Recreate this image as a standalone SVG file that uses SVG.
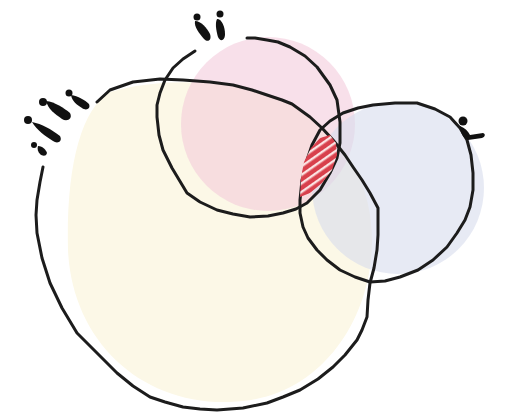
<svg xmlns="http://www.w3.org/2000/svg" width="513" height="415" viewBox="0 0 513 415">
<defs>
<style>
.ol{fill:none;stroke:#1c1c1c;stroke-width:3;stroke-linejoin:round;stroke-linecap:round}
.fig{fill:#111}
</style>
<pattern id="hatch" width="7" height="7" patternUnits="userSpaceOnUse" patternTransform="rotate(-35)">
<rect width="7" height="7" fill="#d8404c"/>
<rect y="0" width="7" height="2.4" fill="#fbe3e3"/>
</pattern>
</defs>
<rect width="513" height="415" fill="#ffffff"/>
<g id="fills">
<path id="fill-yellow" d="M110,92 C170,75 250,80 300,110 C350,140 372,190 372,240 C372,320 320,400 230,402 C140,405 72,340 68,250 C66,170 80,110 110,92 Z" fill="#fcf8e7"/>
<circle id="fill-pink" cx="268" cy="124" r="87" fill="#f3c6d9" fill-opacity="0.55"/>
<circle id="fill-blue" cx="398" cy="188" r="86" fill="#d7dcec" fill-opacity="0.6"/>
</g>
<g id="outline-big">
<path class="ol" d="M97,102 L110,90 L133,82 L160,79 L183,80 L210,82 L233,85 L252,90 L267,95 L282,100 L292,104 L310,117 L322,128 L333,140 L345,155 L353,167 L362,180 L370,193 L378,208 L378,217 L378,235 L377,250 L374,268 L370,283 L368,300 L367,317 L362,330 L357,340 L345,355 L333,367 L318,379 L300,390 L283,397 L267,403 L243,408 L217,410 L200,409 L183,407 L165,402 L150,397 L133,386 L117,373 L97,353 L77,333 L62,308 L50,283 L42,258 L37,233 L36,215 L37,200 L40,182 L43,167"/>
</g>
<g id="outline-pink">
<path class="ol" d="M195,51 L183,59 L173,68 L165,80 L160,93 L157,105 L157,117 L159,135 L163,150 L172,168 L187,193 L200,202 L217,210 L233,214 L250,217 L268,216 L283,213 L296,209 L307,203 L320,190 L330,173 L337,158 L340,143 L340,122 L337,100 L330,85 L317,67 L305,56 L290,47 L278,42 L267,40 L255,38 L247,38"/>
</g>
<g id="outline-blue">
<path class="ol" d="M373,105 L395,103 L417,103 L435,109 L450,117 L460,128 L467,140 L471,155 L473,173 L473,190 L470,207 L465,220 L457,233 L447,247 L433,260 L418,270 L400,277 L385,281 L370,282 L355,277 L340,270 L327,260 L317,250 L308,238 L303,227 L300,213 L300,200 L302,180 L307,160 L312,145 L320,130 L330,121 L343,113 L358,108 Z"/>
</g>
<g id="overlap">
<path d="M300,197 L301,178 L304,162 L311,148 L320,138 L330,135 L336,143 L337,155 L332,170 L322,183 L310,193 Z" fill="url(#hatch)"/>
</g>
<g id="label-two">
<circle class="fig" cx="197" cy="17" r="3.5"/>
<path class="fig" d="M195,21 C201,21 207,28 210,34 C212,40 208,43 204,39 C199,33 194,27 195,21 Z"/>
<circle class="fig" cx="220" cy="14" r="3.5"/>
<path class="fig" d="M217,19 C222,19 225,27 225,34 C225,41 220,42 218,37 C216,30 215,23 217,19 Z"/>
</g>
<g id="label-four">
<circle class="fig" cx="69" cy="93" r="3.5"/>
<path class="fig" d="M71,95 C78,96 85,100 89,104 C91,109 86,111 82,108 C77,105 72,101 71,95 Z"/>
<circle class="fig" cx="43" cy="102" r="4"/>
<path class="fig" d="M46,101 C55,102 64,108 70,113 C73,119 67,122 62,119 C55,114 48,109 46,101 Z"/>
<circle class="fig" cx="28" cy="120" r="4"/>
<path class="fig" d="M32,122 C42,124 51,129 60,136 C63,142 57,144 53,141 C45,136 37,130 32,122 Z"/>
<circle class="fig" cx="34" cy="145" r="3"/>
<path class="fig" d="M38,146 C43,146 46,150 47,153 C46,157 42,156 40,154 C38,152 37,149 38,146 Z"/>
</g>
<g id="label-one">
<circle class="fig" cx="463" cy="121" r="4.5"/>
<path class="fig" d="M460,126 C465,128 468,131 470,135 L483,133 C486,134 485,137 482,138 L468,140 C464,139 460,133 460,126 Z"/>
</g>
</svg>
